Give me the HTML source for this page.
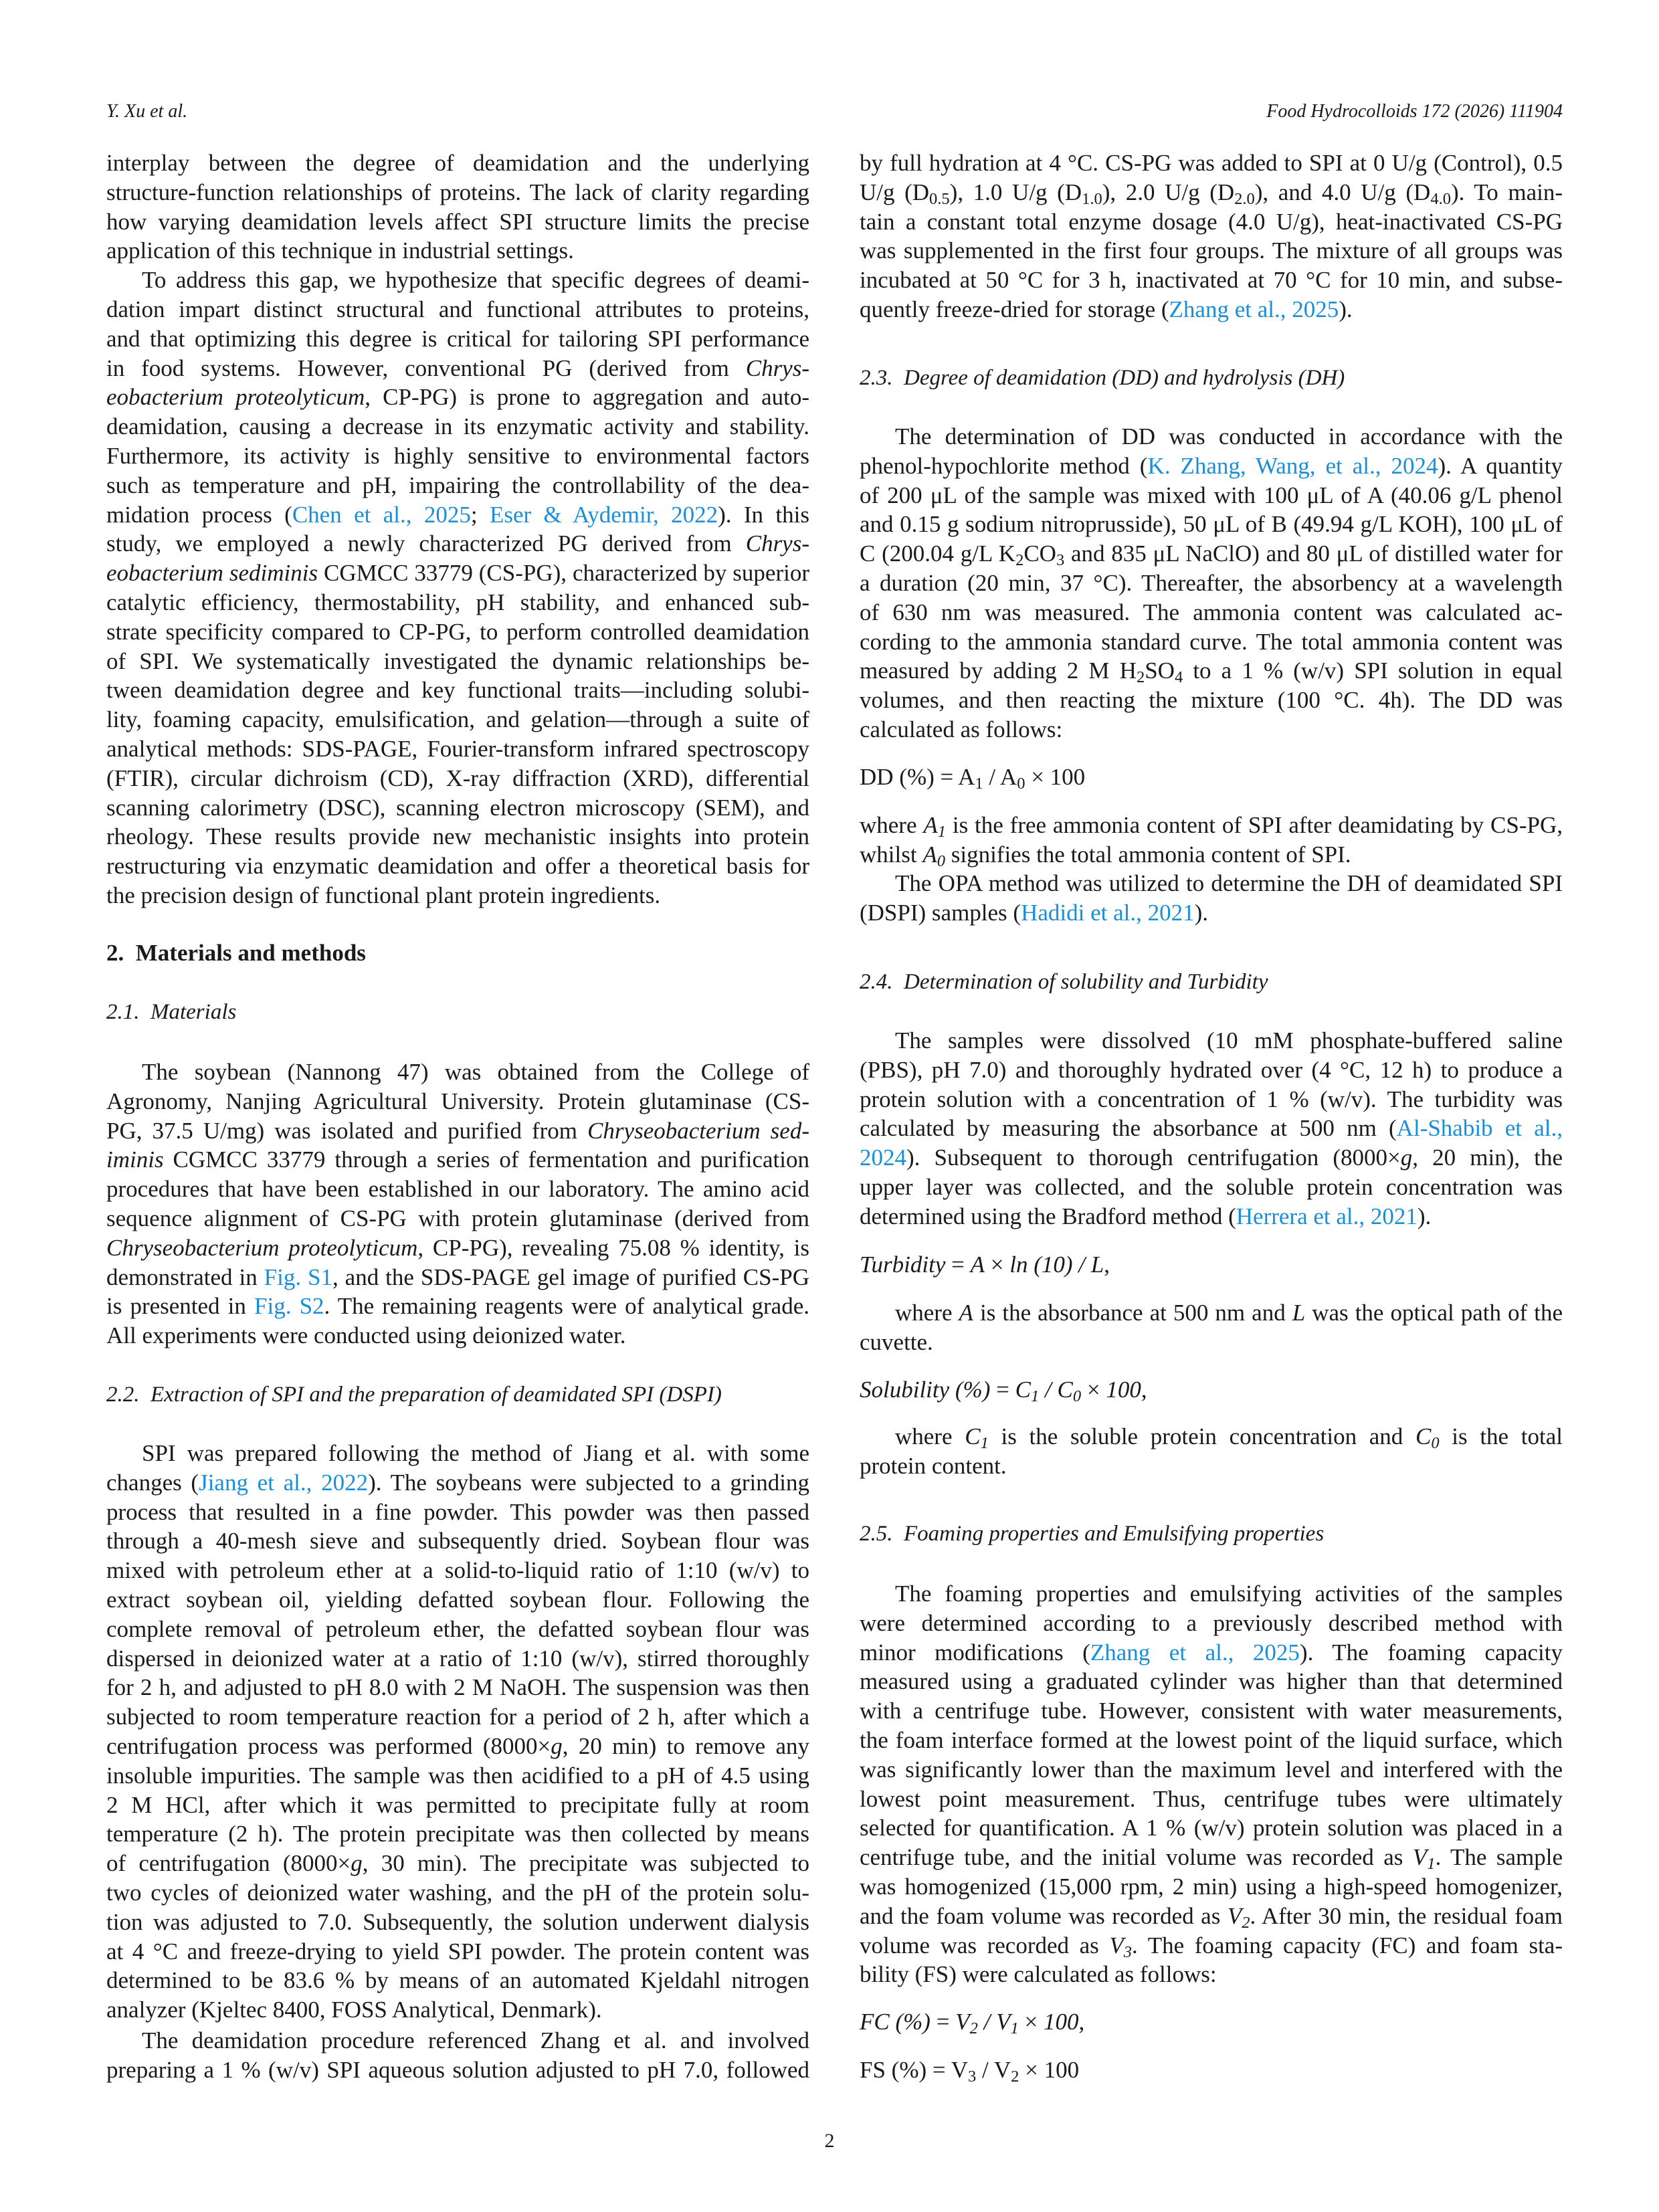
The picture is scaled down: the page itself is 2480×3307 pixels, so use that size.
<!DOCTYPE html>
<html><head><meta charset="utf-8">
<style>
body{margin:0;background:#fff;}
#p{position:relative;width:2480px;height:3307px;overflow:hidden;background:#fff;font-family:"Liberation Serif",serif;color:#1a1a1a;}
.b{position:absolute;font-size:35px;line-height:43.8px;}
.L{left:159px;width:1051px;}
.R{left:1285px;width:1051px;}
.j{text-align:justify;text-align-last:justify;white-space:nowrap;height:43.8px;}
.l{white-space:nowrap;height:43.8px;}
.in{padding-left:53px;}
a{color:#1a8fd8;text-decoration:none;}
i{font-style:italic;}
sub{font-size:0.7em;line-height:0;vertical-align:-0.25em;}
.h{font-size:33px;}
</style></head><body><div id="p">
<div class="b" style="left:159px;top:145px;font-size:28px;font-style:italic;">Y. Xu et al.</div>
<div class="b" style="right:144px;top:145px;font-size:28px;font-style:italic;">Food Hydrocolloids 172 (2026) 111904</div>

<div class="b L" style="top:222px">
<div class="j">interplay between the degree of deamidation and the underlying</div>
<div class="j">structure-function relationships of proteins. The lack of clarity regarding</div>
<div class="j">how varying deamidation levels affect SPI structure limits the precise</div>
<div class="l">application of this technique in industrial settings.</div>
<div class="j in">To address this gap, we hypothesize that specific degrees of deami-</div>
<div class="j">dation impart distinct structural and functional attributes to proteins,</div>
<div class="j">and that optimizing this degree is critical for tailoring SPI performance</div>
<div class="j">in food systems. However, conventional PG (derived from <i>Chrys-</i></div>
<div class="j"><i>eobacterium proteolyticum</i>, CP-PG) is prone to aggregation and auto-</div>
<div class="j">deamidation, causing a decrease in its enzymatic activity and stability.</div>
<div class="j">Furthermore, its activity is highly sensitive to environmental factors</div>
<div class="j">such as temperature and pH, impairing the controllability of the dea-</div>
<div class="j">midation process (<a>Chen et al., 2025</a>; <a>Eser &amp; Aydemir, 2022</a>). In this</div>
<div class="j">study, we employed a newly characterized PG derived from <i>Chrys-</i></div>
<div class="j"><i>eobacterium sediminis</i> CGMCC 33779 (CS-PG), characterized by superior</div>
<div class="j">catalytic efficiency, thermostability, pH stability, and enhanced sub-</div>
<div class="j">strate specificity compared to CP-PG, to perform controlled deamidation</div>
<div class="j">of SPI. We systematically investigated the dynamic relationships be-</div>
<div class="j">tween deamidation degree and key functional traits—including solubi-</div>
<div class="j">lity, foaming capacity, emulsification, and gelation—through a suite of</div>
<div class="j">analytical methods: SDS-PAGE, Fourier-transform infrared spectroscopy</div>
<div class="j">(FTIR), circular dichroism (CD), X-ray diffraction (XRD), differential</div>
<div class="j">scanning calorimetry (DSC), scanning electron microscopy (SEM), and</div>
<div class="j">rheology. These results provide new mechanistic insights into protein</div>
<div class="j">restructuring via enzymatic deamidation and offer a theoretical basis for</div>
<div class="l">the precision design of functional plant protein ingredients.</div>
</div>
<div class="b L" style="top:1403px;font-weight:bold;">2.&nbsp; Materials and methods</div>
<div class="b L h" style="top:1492px;font-style:italic;">2.1.&nbsp; Materials</div>
<div class="b L" style="top:1581px">
<div class="j in">The soybean (Nannong 47) was obtained from the College of</div>
<div class="j">Agronomy, Nanjing Agricultural University. Protein glutaminase (CS-</div>
<div class="j">PG, 37.5 U/mg) was isolated and purified from <i>Chryseobacterium sed-</i></div>
<div class="j"><i>iminis</i> CGMCC 33779 through a series of fermentation and purification</div>
<div class="j">procedures that have been established in our laboratory. The amino acid</div>
<div class="j">sequence alignment of CS-PG with protein glutaminase (derived from</div>
<div class="j"><i>Chryseobacterium proteolyticum</i>, CP-PG), revealing 75.08 % identity, is</div>
<div class="j">demonstrated in <a>Fig. S1</a>, and the SDS-PAGE gel image of purified CS-PG</div>
<div class="j">is presented in <a>Fig. S2</a>. The remaining reagents were of analytical grade.</div>
<div class="l">All experiments were conducted using deionized water.</div>
</div>
<div class="b L h" style="top:2064px;font-style:italic;">2.2.&nbsp; Extraction of SPI and the preparation of deamidated SPI (DSPI)</div>
<div class="b L" style="top:2151px">
<div class="j in">SPI was prepared following the method of Jiang et al. with some</div>
<div class="j">changes (<a>Jiang et al., 2022</a>). The soybeans were subjected to a grinding</div>
<div class="j">process that resulted in a fine powder. This powder was then passed</div>
<div class="j">through a 40-mesh sieve and subsequently dried. Soybean flour was</div>
<div class="j">mixed with petroleum ether at a solid-to-liquid ratio of 1:10 (w/v) to</div>
<div class="j">extract soybean oil, yielding defatted soybean flour. Following the</div>
<div class="j">complete removal of petroleum ether, the defatted soybean flour was</div>
<div class="j">dispersed in deionized water at a ratio of 1:10 (w/v), stirred thoroughly</div>
<div class="j">for 2 h, and adjusted to pH 8.0 with 2 M NaOH. The suspension was then</div>
<div class="j">subjected to room temperature reaction for a period of 2 h, after which a</div>
<div class="j">centrifugation process was performed (8000×<i>g</i>, 20 min) to remove any</div>
<div class="j">insoluble impurities. The sample was then acidified to a pH of 4.5 using</div>
<div class="j">2 M HCl, after which it was permitted to precipitate fully at room</div>
<div class="j">temperature (2 h). The protein precipitate was then collected by means</div>
<div class="j">of centrifugation (8000×<i>g</i>, 30 min). The precipitate was subjected to</div>
<div class="j">two cycles of deionized water washing, and the pH of the protein solu-</div>
<div class="j">tion was adjusted to 7.0. Subsequently, the solution underwent dialysis</div>
<div class="j">at 4 °C and freeze-drying to yield SPI powder. The protein content was</div>
<div class="j">determined to be 83.6 % by means of an automated Kjeldahl nitrogen</div>
<div class="l">analyzer (Kjeltec 8400, FOSS Analytical, Denmark).</div>
</div>
<div class="b L" style="top:3029px">
<div class="j in">The deamidation procedure referenced Zhang et al. and involved</div>
<div class="j">preparing a 1 % (w/v) SPI aqueous solution adjusted to pH 7.0, followed</div>
</div>

<div class="b R" style="top:222px">
<div class="j">by full hydration at 4 °C. CS-PG was added to SPI at 0 U/g (Control), 0.5</div>
<div class="j">U/g (D<sub>0.5</sub>), 1.0 U/g (D<sub>1.0</sub>), 2.0 U/g (D<sub>2.0</sub>), and 4.0 U/g (D<sub>4.0</sub>). To main-</div>
<div class="j">tain a constant total enzyme dosage (4.0 U/g), heat-inactivated CS-PG</div>
<div class="j">was supplemented in the first four groups. The mixture of all groups was</div>
<div class="j">incubated at 50 °C for 3 h, inactivated at 70 °C for 10 min, and subse-</div>
<div class="l">quently freeze-dried for storage (<a>Zhang et al., 2025</a>).</div>
</div>
<div class="b R h" style="top:544px;font-style:italic;">2.3.&nbsp; Degree of deamidation (DD) and hydrolysis (DH)</div>
<div class="b R" style="top:631px">
<div class="j in">The determination of DD was conducted in accordance with the</div>
<div class="j">phenol-hypochlorite method (<a>K. Zhang, Wang, et al., 2024</a>). A quantity</div>
<div class="j">of 200 μL of the sample was mixed with 100 μL of A (40.06 g/L phenol</div>
<div class="j">and 0.15 g sodium nitroprusside), 50 μL of B (49.94 g/L KOH), 100 μL of</div>
<div class="j">C (200.04 g/L K<sub>2</sub>CO<sub>3</sub> and 835 μL NaClO) and 80 μL of distilled water for</div>
<div class="j">a duration (20 min, 37 °C). Thereafter, the absorbency at a wavelength</div>
<div class="j">of 630 nm was measured. The ammonia content was calculated ac-</div>
<div class="j">cording to the ammonia standard curve. The total ammonia content was</div>
<div class="j">measured by adding 2 M H<sub>2</sub>SO<sub>4</sub> to a 1 % (w/v) SPI solution in equal</div>
<div class="j">volumes, and then reacting the mixture (100 °C. 4h). The DD was</div>
<div class="l">calculated as follows:</div>
</div>
<div class="b R" style="top:1140px">DD (%) = A<sub>1</sub> / A<sub>0</sub> × 100</div>
<div class="b R" style="top:1212px">
<div class="j">where <i>A<sub>1</sub></i> is the free ammonia content of SPI after deamidating by CS-PG,</div>
<div class="l">whilst <i>A<sub>0</sub></i> signifies the total ammonia content of SPI.</div>
</div>
<div class="b R" style="top:1299px">
<div class="j in">The OPA method was utilized to determine the DH of deamidated SPI</div>
<div class="l">(DSPI) samples (<a>Hadidi et al., 2021</a>).</div>
</div>
<div class="b R h" style="top:1447px;font-style:italic;">2.4.&nbsp; Determination of solubility and Turbidity</div>
<div class="b R" style="top:1534px">
<div class="j in">The samples were dissolved (10 mM phosphate-buffered saline</div>
<div class="j">(PBS), pH 7.0) and thoroughly hydrated over (4 °C, 12 h) to produce a</div>
<div class="j">protein solution with a concentration of 1 % (w/v). The turbidity was</div>
<div class="j">calculated by measuring the absorbance at 500 nm (<a>Al-Shabib et al.,</a></div>
<div class="j"><a>2024</a>). Subsequent to thorough centrifugation (8000×<i>g</i>, 20 min), the</div>
<div class="j">upper layer was collected, and the soluble protein concentration was</div>
<div class="l">determined using the Bradford method (<a>Herrera et al., 2021</a>).</div>
</div>
<div class="b R" style="top:1869px"><i>Turbidity</i> = <i>A</i> × <i>ln (10) / L</i>,</div>
<div class="b R" style="top:1941px">
<div class="j in">where <i>A</i> is the absorbance at 500 nm and <i>L</i> was the optical path of the</div>
<div class="l">cuvette.</div>
</div>
<div class="b R" style="top:2056px"><i>Solubility (%)</i> = <i>C<sub>1</sub> / C<sub>0</sub></i> × <i>100</i>,</div>
<div class="b R" style="top:2126px">
<div class="j in">where <i>C<sub>1</sub></i> is the soluble protein concentration and <i>C<sub>0</sub></i> is the total</div>
<div class="l">protein content.</div>
</div>
<div class="b R h" style="top:2272px;font-style:italic;">2.5.&nbsp; Foaming properties and Emulsifying properties</div>
<div class="b R" style="top:2361px">
<div class="j in">The foaming properties and emulsifying activities of the samples</div>
<div class="j">were determined according to a previously described method with</div>
<div class="j">minor modifications (<a>Zhang et al., 2025</a>). The foaming capacity</div>
<div class="j">measured using a graduated cylinder was higher than that determined</div>
<div class="j">with a centrifuge tube. However, consistent with water measurements,</div>
<div class="j">the foam interface formed at the lowest point of the liquid surface, which</div>
<div class="j">was significantly lower than the maximum level and interfered with the</div>
<div class="j">lowest point measurement. Thus, centrifuge tubes were ultimately</div>
<div class="j">selected for quantification. A 1 % (w/v) protein solution was placed in a</div>
<div class="j">centrifuge tube, and the initial volume was recorded as <i>V<sub>1</sub></i>. The sample</div>
<div class="j">was homogenized (15,000 rpm, 2 min) using a high-speed homogenizer,</div>
<div class="j">and the foam volume was recorded as <i>V<sub>2</sub></i>. After 30 min, the residual foam</div>
<div class="j">volume was recorded as <i>V<sub>3</sub></i>. The foaming capacity (FC) and foam sta-</div>
<div class="l">bility (FS) were calculated as follows:</div>
</div>
<div class="b R" style="top:3001px"><i>FC (%)</i> = <i>V<sub>2</sub> / V<sub>1</sub></i> × <i>100</i>,</div>
<div class="b R" style="top:3073px">FS (%) = V<sub>3</sub> / V<sub>2</sub> × 100</div>
<div class="b" style="left:0;width:2480px;text-align:center;top:3179px;font-size:30px;">2</div>
</div></body></html>
